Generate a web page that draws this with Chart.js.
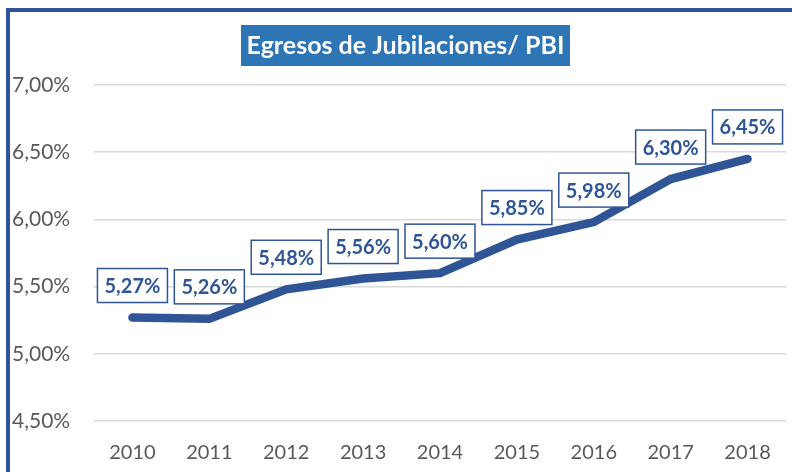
<!DOCTYPE html>
<html>
<head>
<meta charset="utf-8">
<script src="https://cdn.jsdelivr.net/npm/chart.js@4.4.0/dist/chart.umd.min.js"></script>
<style>
  html, body { margin: 0; padding: 0; background: #fff; }
  #wrap { position: relative; width: 792px; height: 472px; overflow: hidden; }
  #frame {
    position: absolute; left: 6px; top: 8px; width: 800px; height: 480px;
    border-left: 4px solid #2F5597; border-top: 4px solid #2F5597;
    box-sizing: border-box; pointer-events: none;
  }
  canvas { position: absolute; left: 0; top: 0; }
</style>
</head>
<body>
<div id="wrap">
  <canvas id="myChart" width="792" height="472"></canvas>
  <div id="frame"></div>
</div>
<script>
const years = ['2010', '2011', '2012', '2013', '2014', '2015', '2016', '2017', '2018'];
const egresos = [5.27, 5.26, 5.48, 5.56, 5.60, 5.85, 5.98, 6.30, 6.45];
const chartTitle = 'Egresos de Jubilaciones/ PBI';

const blue = '#2F5597';
const fmt = v => v.toFixed(2).replace('.', ',') + '%';

// title box drawn on top of the canvas
const titleBox = {
  id: 'titleBox',
  afterDraw(chart) {
    const ctx = chart.ctx;
    ctx.save();
    ctx.fillStyle = '#2E75B6';
    ctx.fillRect(241, 25, 329, 41);
    ctx.fillStyle = '#fff';
    ctx.font = 'bold 25px Lato';
    ctx.textAlign = 'center';
    ctx.textBaseline = 'middle';
    ctx.fillText(chartTitle, 405.5, 46);
    ctx.restore();
  }
};

// boxed value labels above each point
const valueLabels = {
  id: 'valueLabels',
  afterDatasetsDraw(chart) {
    const ctx = chart.ctx;
    const meta = chart.getDatasetMeta(0);
    ctx.save();
    ctx.font = 'bold 20px Lato';
    ctx.textAlign = 'center';
    ctx.textBaseline = 'middle';
    meta.data.forEach((pt, i) => {
      const w = 70, h = 34;
      const x = pt.x - w / 2, y = pt.y - 15 - h;
      ctx.fillStyle = '#fff';
      ctx.fillRect(x, y, w, h);
      ctx.strokeStyle = blue;
      ctx.lineWidth = 1.5;
      ctx.strokeRect(x, y, w, h);
      ctx.fillStyle = blue;
      ctx.fillText(fmt(egresos[i]), pt.x, y + h / 2 + 1);
    });
    ctx.restore();
  }
};

const ctx = document.getElementById('myChart').getContext('2d');
new Chart(ctx, {
  type: 'line',
  data: {
    labels: years,
    datasets: [{
      data: egresos,
      borderColor: blue,
      borderWidth: 8.5,
      borderCapStyle: 'round',
      borderJoinStyle: 'miter',
      pointRadius: 0,
      tension: 0
    }]
  },
  options: {
    responsive: false,
    animation: false,
    layout: { padding: { left: 12, right: 6, top: 85, bottom: 4 } },
    plugins: {
      legend: { display: false },
      tooltip: { enabled: false }
    },
    scales: {
      x: {
        offset: true,
        grid: { display: false, drawTicks: false },
        border: { display: false },
        ticks: { color: '#595959', font: { family: 'Lato', size: 20 }, padding: 20, maxRotation: 0 },
        afterFit(scale) { scale.height = 47; }
      },
      y: {
        min: 4.5,
        max: 7.0,
        ticks: {
          stepSize: 0.5,
          color: '#595959',
          font: { family: 'Lato', size: 21 },
          crossAlign: 'far',
          padding: 0,
          callback: v => fmt(v)
        },
        grid: { color: '#d9d9d9', lineWidth: 1.5, drawTicks: false },
        border: { display: false },
        afterFit(scale) { scale.width = 82; }
      }
    }
  },
  plugins: [titleBox, valueLabels]
});
</script>
</body>
</html>
